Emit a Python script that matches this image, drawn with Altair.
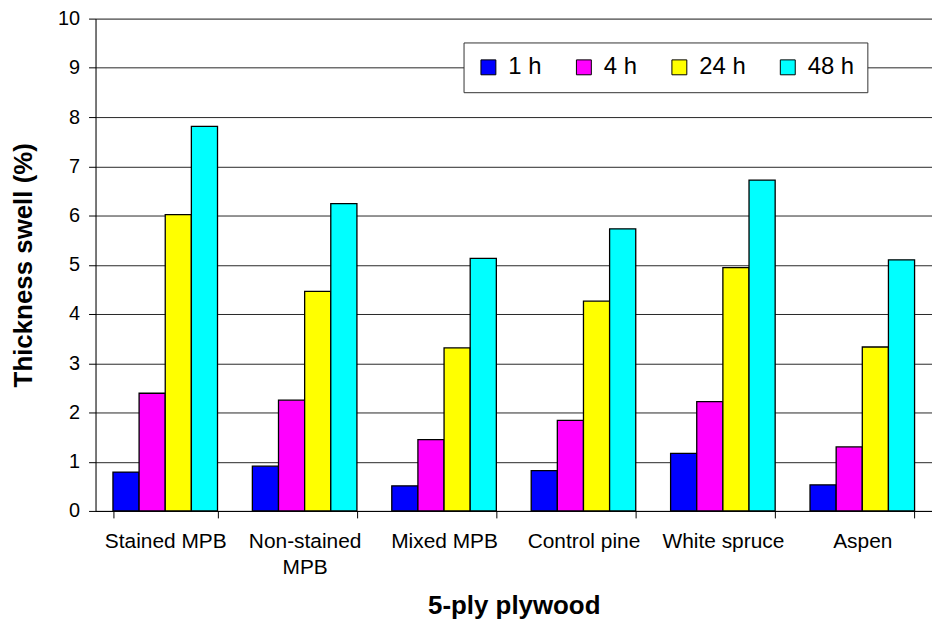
import altair as alt
import pandas as pd

categories = ["Stained MPB", "Non-stained MPB", "Mixed MPB", "Control pine", "White spruce", "Aspen"]
series = ["1 h", "4 h", "24 h", "48 h"]
h1 = [0.79, 0.91, 0.51, 0.82, 1.17, 0.53]
h4 = [2.39, 2.25, 1.45, 1.84, 2.22, 1.30]
h24 = [6.02, 4.46, 3.31, 4.26, 4.94, 3.33]
h48 = [7.81, 6.24, 5.13, 5.73, 6.72, 5.10]
colors = ["#0000FF", "#FF00FF", "#FFFF00", "#00FFFF"]

rows = []
for s, vals in zip(series, [h1, h4, h24, h48]):
    for c, v in zip(categories, vals):
        rows.append({"wood": c, "time": s, "swell": v})
df = pd.DataFrame(rows)

FONT = "Liberation Sans"

chart = alt.Chart(df).mark_bar(stroke="black", strokeWidth=1.3).encode(
    x=alt.X(
        "wood:N",
        sort=categories,
        scale=alt.Scale(paddingInner=0.25, paddingOuter=0.125),
        axis=alt.Axis(
            title="5-ply plywood",
            labelAngle=0,
            labelFontSize=21,
            labelFont=FONT,
            labelColor="black",
            labelPadding=13,
            labelLineHeight=26,
            labelBaseline="top",
            labelExpr="datum.label == 'Non-stained MPB' ? ['Non-stained', 'MPB'] : datum.label",
            tickBand="extent",
            tickSize=7,
            tickColor="black",
            domainColor="black",
            titleFontSize=26,
            titleFont=FONT,
            titleFontWeight="bold",
            titleColor="black",
            titlePadding=15,
            grid=False,
        ),
    ),
    xOffset=alt.XOffset("time:N", sort=series),
    y=alt.Y(
        "swell:Q",
        scale=alt.Scale(domain=[0, 10], nice=False),
        axis=alt.Axis(
            title="Thickness swell (%)",
            values=list(range(0, 11)),
            labelFontSize=20,
            labelFont=FONT,
            labelColor="black",
            labelPadding=9,
            tickSize=7,
            tickColor="black",
            domainColor="black",
            gridColor="black",
            gridOpacity=0.85,
            titleFontSize=26,
            titleFont=FONT,
            titleFontWeight="bold",
            titleColor="black",
            titlePadding=21,
        ),
    ),
    color=alt.Color(
        "time:N",
        sort=series,
        scale=alt.Scale(domain=series, range=colors),
        legend=alt.Legend(
            title=None,
            orient="none",
            legendX=370,
            legendY=24,
            direction="horizontal",
            columns=4,
            columnPadding=30,
            symbolType="square",
            symbolSize=225,
            symbolStrokeColor="black",
            symbolStrokeWidth=1,
            labelFontSize=24,
            labelFont=FONT,
            labelColor="black",
            labelOffset=8,
            padding=13,
            strokeColor="#333333",
            fillColor="white",
        ),
    ),
).properties(
    width=841,
    height=495,
    autosize=alt.AutoSizeParams(type="none"),
    padding={"left": 88, "top": 9, "right": 0, "bottom": 108},
).configure_view(stroke=None).configure(background="white")

chart.save("out.html", embed_options={"renderer": "svg", "actions": False})
